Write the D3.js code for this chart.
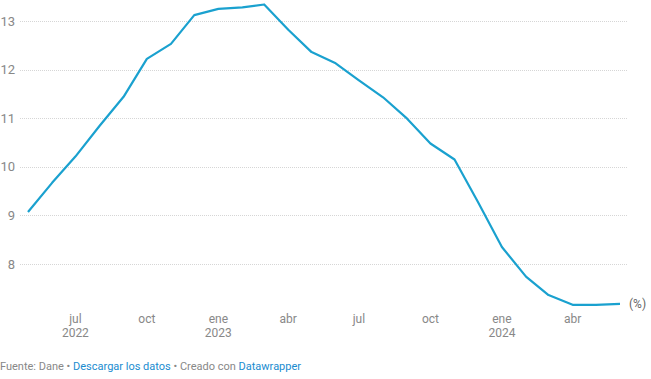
<!DOCTYPE html>
<html><head><meta charset="utf-8">
<script src="https://cdn.jsdelivr.net/npm/d3@7"></script>
<style>
body{margin:0;background:#fff;font-family:Roboto,"Noto Sans",sans-serif;}
</style></head>
<body><svg id="c" width="651" height="379"></svg>
<script>
const months = ["2022-05","2022-06","2022-07","2022-08","2022-09","2022-10","2022-11","2022-12",
"2023-01","2023-02","2023-03","2023-04","2023-05","2023-06","2023-07","2023-08","2023-09","2023-10","2023-11","2023-12",
"2024-01","2024-02","2024-03","2024-04","2024-05","2024-06"];
const values = [9.07,9.67,10.21,10.84,11.44,12.22,12.53,13.12,13.25,13.28,13.34,12.82,12.36,12.13,11.78,11.43,10.99,10.48,10.15,9.28,8.35,7.74,7.36,7.16,7.16,7.18];
const yTicks = [8,9,10,11,12,13];
const xTickDates = ["2022-07","2022-10","2023-01","2023-04","2023-07","2023-10","2024-01","2024-04"];
const xTickMonths = ["jul","oct","ene","abr","jul","oct","ene","abr"];
const xTickYears = ["2022","","2023","","","","2024",""];
const unitLabel = "(%)";

const parse = d3.timeParse("%Y-%m");
const data = months.map((m,i)=>({date:parse(m), value:values[i]}));
const svg = d3.select("#c");

const x = d3.scaleTime().domain([parse("2022-05"), parse("2024-06")]).range([28, 620]);
const y = d3.scaleLinear().domain([8,13]).range([264,21]);

// grid
svg.append("g").selectAll("line").data(yTicks).join("line")
  .attr("x1",20).attr("x2",628)
  .attr("y1",d=>Math.round(y(d))+0.5).attr("y2",d=>Math.round(y(d))+0.5)
  .attr("stroke","#d6d6d6").attr("stroke-width",1).attr("stroke-dasharray","1,1");

// y labels
svg.append("g").selectAll("text").data(yTicks).join("text")
  .attr("x",15).attr("y",d=>y(d)).attr("dy","0.35em")
  .attr("text-anchor","end").attr("fill","#888").attr("font-size",13)
  .text(d=>d);

// x labels
const xt = svg.append("g");
xTickDates.forEach((d,i)=>{
  const xx = x(parse(d));
  xt.append("text").attr("x",xx).attr("y",323).attr("text-anchor","middle")
    .attr("fill","#888").attr("font-size",12).text(xTickMonths[i]);
  if (xTickYears[i]) xt.append("text").attr("x",xx).attr("y",337).attr("text-anchor","middle")
    .attr("fill","#888").attr("font-size",12).text(xTickYears[i]);
});

// line
svg.append("path").datum(data)
  .attr("d", d3.line().x(d=>x(d.date)).y(d=>y(d.value)))
  .attr("fill","none").attr("stroke","#1aa1cf").attr("stroke-width",2.2)
  .attr("stroke-linejoin","round").attr("stroke-linecap","butt");

svg.append("text").attr("x",629).attr("y",y(values[values.length-1])).attr("dy","0.35em")
  .attr("fill","#666").attr("font-size",12).text(unitLabel);

// footer
const f = svg.append("text").attr("x",0).attr("y",370).attr("font-size",11).attr("fill","#888");
f.append("tspan").text("Fuente: Dane • ");
f.append("tspan").attr("fill","#1a8ccf").text("Descargar los datos");
f.append("tspan").text(" • Creado con ");
f.append("tspan").attr("fill","#1a8ccf").text("Datawrapper");
</script></body></html>
